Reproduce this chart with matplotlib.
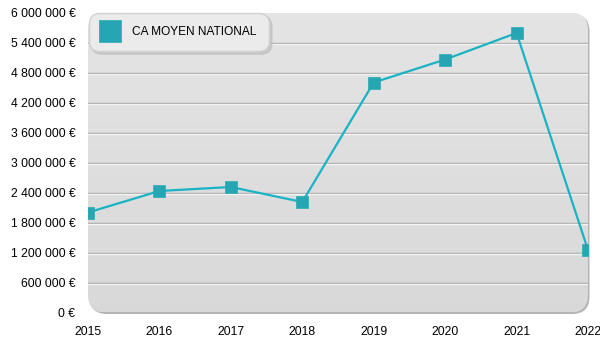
import matplotlib

matplotlib.use("Agg")
import matplotlib.pyplot as plt
import numpy as np
from matplotlib.patches import FancyBboxPatch
from matplotlib.ticker import FuncFormatter

years = [2015, 2016, 2017, 2018, 2019, 2020, 2021, 2022]
ca_moyen = [2000000, 2430000, 2510000, 2210000, 4600000, 5060000, 5590000, 1250000]
y_ticks = [0, 600000, 1200000, 1800000, 2400000, 3000000, 3600000, 4200000, 4800000, 5400000, 6000000]
series_label = "CA MOYEN NATIONAL"

plt.rcParams["font.family"] = ["Liberation Sans", "DejaVu Sans"]

fig = plt.figure(figsize=(6, 3.5), dpi=100)
ax = fig.add_axes([88 / 600, 37.5 / 350, 500 / 600, 300 / 350])
ax.set_xlim(2015, 2022)
ax.set_ylim(0, 6000000)

# rounded background with gradient
shadow = FancyBboxPatch((0.003, -0.005), 1.0, 1.0, boxstyle="round,pad=0,rounding_size=0.035",
                        transform=ax.transAxes, facecolor="#b4b4b4", edgecolor="none",
                        mutation_aspect=500 / 300, zorder=0, clip_on=False)
ax.add_patch(shadow)
bg = FancyBboxPatch((0, 0), 1.0, 1.0, boxstyle="round,pad=0,rounding_size=0.035",
                    transform=ax.transAxes, facecolor="none", edgecolor="none",
                    mutation_aspect=500 / 300, zorder=0.5, clip_on=False)
ax.add_patch(bg)
grad = np.linspace(0.895, 0.85, 100).reshape(-1, 1)
im = ax.imshow(np.dstack([grad, grad, grad]), extent=[2015, 2022, 0, 6000000], origin="upper",
               aspect="auto", zorder=0.6, clip_on=True)
im.set_clip_path(bg)
ax.set_ylim(0, 6000000)

for s in ax.spines.values():
    s.set_visible(False)
ax.set_facecolor("none")

for v in y_ticks[1:-1]:
    ax.axhline(v, color="#a8a8a8", lw=1.0, zorder=1)
    ax.axhline(v - 25000, color="#f4f4f4", lw=1.0, zorder=1)

ax.plot(years, ca_moyen, color="#19b3c4", lw=1.6, marker="s", markersize=8,
        markerfacecolor="#25a6b2", markeredgecolor="#2aa9b4", markeredgewidth=0.5,
        zorder=3, label=series_label)

ax.set_xticks(years)
ax.set_yticks(y_ticks)
ax.yaxis.set_major_formatter(FuncFormatter(lambda v, p: f"{int(v):,}".replace(",", " ") + " €"))
ax.tick_params(length=0, labelsize=8.7, colors="black")
ax.tick_params(axis="y", pad=9)
ax.tick_params(axis="x", pad=10)

leg = ax.legend(loc="upper left", bbox_to_anchor=(0.0, 1.0), borderaxespad=0.05, frameon=True,
                fancybox=True, facecolor="#ebebeb", edgecolor="#d0d0d0", framealpha=1,
                fontsize=8.6, borderpad=1.1, handlelength=1.3, handletextpad=1.2,
                markerscale=1.9, shadow={"color": "#bbbbbb", "alpha": 0.6})
leg.get_frame().set_boxstyle("round", pad=0, rounding_size=0.9)
for h in leg.legend_handles:
    h.set_linestyle("none")

fig.savefig("out.png", dpi=100)
